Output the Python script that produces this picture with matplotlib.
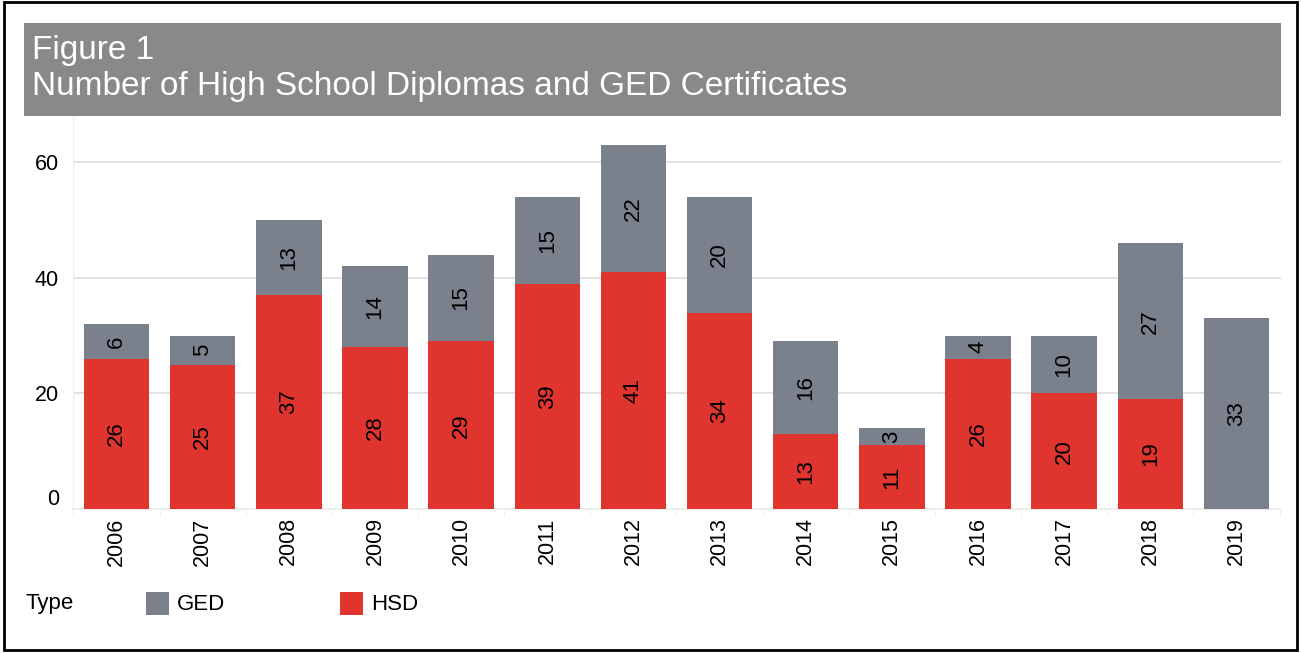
import numpy as np
import matplotlib.pyplot as plt
import matplotlib.transforms as transforms
from matplotlib.patches import Rectangle

# ---- Data ----
years = ["2006", "2007", "2008", "2009", "2010", "2011", "2012",
         "2013", "2014", "2015", "2016", "2017", "2018", "2019"]
hsd = [26, 25, 37, 28, 29, 39, 41, 34, 13, 11, 26, 20, 19, 0]
ged = [6, 5, 13, 14, 15, 15, 22, 20, 16, 3, 4, 10, 27, 33]

red = "#e0352f"
grey = "#7a808c"

plt.rcParams["font.family"] = ["Liberation Sans", "DejaVu Sans"]

W, H = 1301, 653
fig = plt.figure(figsize=(W / 100, H / 100), dpi=100)


def px(x, y, w, h):
    # pixel box (from top-left) -> figure fraction
    return [x / W, 1 - (y + h) / H, w / W, h / H]


# outer frame
fig.patches.append(Rectangle((4 / W, 3 / H), 1293 / W, 648 / H, transform=fig.transFigure,
                             fill=False, edgecolor="black", linewidth=2))
# title band
fig.patches.append(Rectangle((24 / W, 1 - 116 / H), 1257 / W, 93 / H, transform=fig.transFigure,
                             facecolor="#898989", edgecolor="none"))
fig.text(32 / W, 1 - 50 / H, "Figure 1", color="white", fontsize=24, va="center")
fig.text(32 / W, 1 - 87 / H, "Number of High School Diplomas and GED Certificates",
         color="white", fontsize=24, va="center")

# ---- Plot ----
ax = fig.add_axes(px(73, 116, 1208, 393))
x = np.arange(len(years))
hsd_a = np.array(hsd)
ged_a = np.array(ged)
ax.bar(x, hsd_a, width=0.76, color=red, zorder=3)
ax.bar(x, ged_a, bottom=hsd_a, width=0.76, color=grey, zorder=3)

for i in range(len(years)):
    if hsd_a[i] > 0:
        ax.text(x[i], hsd_a[i] / 2, str(hsd_a[i]), rotation=90, ha="center", va="center",
                fontsize=16, zorder=4)
    if ged_a[i] > 0:
        ax.text(x[i], hsd_a[i] + ged_a[i] / 2, str(ged_a[i]), rotation=90, ha="center",
                va="center", fontsize=16, zorder=4)

ax.set_xlim(-0.505, 13.517)
ax.set_ylim(0, 68)
ax.set_yticks([0, 20, 40, 60])
ax.set_xticks(x)
ax.set_xticklabels(years, rotation=90)
ax.set_xticks(np.arange(-0.5, len(years)), minor=True)
ax.tick_params(axis="x", which="major", length=0, pad=6, labelsize=15.5)
ax.tick_params(axis="x", which="minor", length=5, color="#eeeeee")
ax.tick_params(axis="y", length=0, pad=10, labelsize=15.5)
ax.grid(axis="y", color="#dddddd", linewidth=1.2, zorder=0)
for s in ["top", "right"]:
    ax.spines[s].set_visible(False)
ax.spines["left"].set_color("#eeeeee")
ax.spines["bottom"].set_color("#eeeeee")
ax.spines["bottom"].set_linewidth(1.5)

# the "0" label sits a little above the baseline in the original
zero_lbl = ax.get_yticklabels()[0]
zero_lbl.set_transform(zero_lbl.get_transform() +
                       transforms.ScaledTranslation(0, 12 / 100, fig.dpi_scale_trans))

# ---- Legend ----
fig.text(25 / W, 1 - 604 / H, "Type", fontsize=16, va="center")
fig.patches.append(Rectangle((146 / W, 1 - 615 / H), 23 / W, 23 / H, transform=fig.transFigure,
                             facecolor=grey, edgecolor="none"))
fig.text(177 / W, 1 - 604 / H, "GED", fontsize=16, va="center")
fig.patches.append(Rectangle((340 / W, 1 - 615 / H), 23 / W, 23 / H, transform=fig.transFigure,
                             facecolor=red, edgecolor="none"))
fig.text(371 / W, 1 - 604 / H, "HSD", fontsize=16, va="center")

plt.savefig("out.png", dpi=100)
plt.close()
